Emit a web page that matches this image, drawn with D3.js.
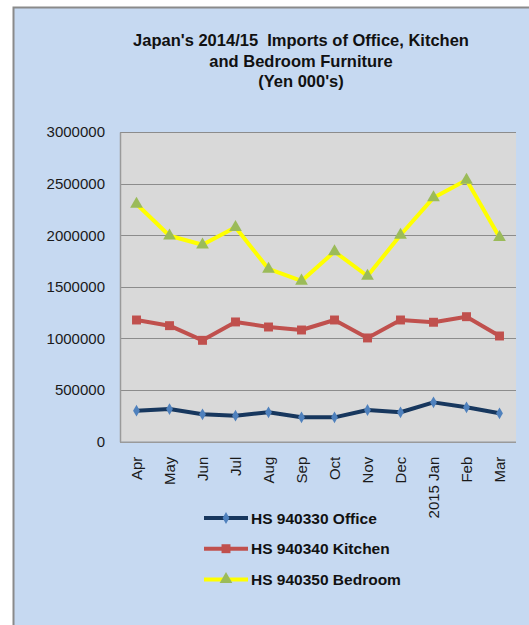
<!DOCTYPE html>
<html>
<head>
<meta charset="utf-8">
<script src="https://cdn.jsdelivr.net/npm/d3@7"></script>
<style>
  body { margin: 0; background: #fff; }
  text { font-family: "Liberation Sans", Arial, sans-serif; }
</style>
</head>
<body>
<div id="chart"></div>
<script>
var months = ['Apr','May','Jun','Jul','Aug','Sep','Oct','Nov','Dec','2015 Jan','Feb','Mar'];
var office  = [300000, 316000, 265000, 252000, 285000, 236000, 236000, 307000, 285000, 381000, 333000, 275000];
var kitchen = [1179000, 1124000, 982000, 1160000, 1111000, 1082000, 1179000, 1005000, 1179000, 1157000, 1211000, 1024000];
var bedroom = [2302000, 1995000, 1908000, 2077000, 1673000, 1557000, 1841000, 1605000, 2002000, 2364000, 2535000, 1980000];
var yTicks = [0, 500000, 1000000, 1500000, 2000000, 2500000, 3000000];
var titleLines = ["Japan's 2014/15  Imports of Office, Kitchen", 'and Bedroom Furniture', "(Yen 000's)"];

var series = [
  {name: 'HS 940330 Office',  values: office,  line: '#17375e', marker: '#4f81bd', shape: d3.symbolDiamond, size: 40},
  {name: 'HS 940340 Kitchen', values: kitchen, line: '#c0504d', marker: '#c0504d', shape: d3.symbolSquare, size: 80},
  {name: 'HS 940350 Bedroom', values: bedroom, line: '#ffff00', marker: '#9bbb59', shape: d3.symbolTriangle, size: 70}
];

var width = 529, height = 625;

var svg = d3.select('#chart')
    .append('svg')
    .attr('width', width)
    .attr('height', height)

// chart background + border (top & left visible)
svg.append('rect')
    .attr('x', 13).attr('y', 7)
    .attr('width', width).attr('height', height)
    .attr('fill', '#c6d9f1')
svg.append('path')
    .attr('d', `M13.5,${height} V7.5 H${width}`)
    .attr('fill', 'none')
    .attr('stroke', '#8a8a8a')
    .attr('stroke-width', 2)

// title
svg.append('g')
    .selectAll('text')
    .data(titleLines)
    .join('text')
    .attr('x', 301)
    .attr('y', (d, i) => 46 + i*20.5)
    .attr('text-anchor', 'middle')
    .style('font-size', '16.5px')
    .style('font-weight', 'bold')
    .style('white-space', 'pre')
    .attr('fill', '#111')
    .text(d => d)

var plot = {left: 120, right: 516, top: 132, bottom: 441.7};

var x = d3.scalePoint()
    .domain(months)
    .range([plot.left, plot.right])
    .padding(0.5)

var y = d3.scaleLinear()
    .domain([0, 3000000])
    .range([plot.bottom, plot.top])

svg.append('rect')
    .attr('x', plot.left).attr('y', plot.top)
    .attr('width', plot.right - plot.left)
    .attr('height', plot.bottom - plot.top)
    .attr('fill', '#d9d9d9')

// grid lines
svg.append('g')
    .selectAll('line')
    .data(yTicks.slice(1))
    .join('line')
    .attr('x1', plot.left).attr('x2', plot.right)
    .attr('y1', d => Math.round(y(d)) + 0.5).attr('y2', d => Math.round(y(d)) + 0.5)
    .attr('stroke', '#8c8c8c')
    .attr('stroke-width', 1.2)

// y axis
var yAxis = svg.append('g')
    .attr('transform', `translate(${plot.left},0)`)
    .call(d3.axisLeft(y).tickValues(yTicks).tickSize(0).tickPadding(15).tickFormat(d3.format('d')))
yAxis.select('.domain').attr('stroke', '#9a9a9a').attr('stroke-width', 1.5)
yAxis.selectAll('text')
    .style('font-size', '15px')
    .style('font-family', '"Liberation Sans", Arial, sans-serif')
    .attr('fill', '#1a1a1a')

// x axis
var xAxis = svg.append('g')
    .attr('transform', `translate(0,${plot.bottom})`)
    .call(d3.axisBottom(x).tickSize(0).tickSizeOuter(0))
xAxis.select('.domain')
    .attr('d', `M${plot.left},0.5H${plot.right}`)
    .attr('stroke', '#9a9a9a').attr('stroke-width', 1.5)
xAxis.selectAll('text')
    .attr('transform', 'rotate(-90)')
    .attr('x', -15)
    .attr('y', 0)
    .attr('dy', '0.35em')
    .attr('text-anchor', 'end')
    .style('font-size', '15px')
    .style('font-family', '"Liberation Sans", Arial, sans-serif')
    .attr('fill', '#1a1a1a')

var line = d3.line()
    .x((d, i) => x(months[i]))
    .y(d => y(d))

series.forEach(function(s) {
  var g = svg.append('g')
  g.append('path')
      .datum(s.values)
      .attr('d', line)
      .attr('fill', 'none')
      .attr('stroke', s.line)
      .attr('stroke-width', 4)
      .attr('stroke-linejoin', 'round')
  g.selectAll('path.m')
      .data(s.values)
      .join('path')
      .attr('class', 'm')
      .attr('d', d3.symbol().type(s.shape).size(s.size))
      .attr('transform', (d, i) => `translate(${x(months[i])},${y(d)})`)
      .attr('fill', s.marker)
})

// legend
var legend = svg.append('g')
    .attr('transform', 'translate(204,518)')
var rows = legend.selectAll('g')
    .data(series)
    .join('g')
    .attr('transform', (d, i) => `translate(0,${i*30.7})`)
rows.append('line')
    .attr('x1', 0).attr('x2', 44)
    .attr('stroke', d => d.line)
    .attr('stroke-width', 4)
rows.append('path')
    .attr('d', d => d3.symbol().type(d.shape).size(d.size)())
    .attr('transform', 'translate(22,0)')
    .attr('fill', d => d.marker)
rows.append('text')
    .attr('x', 47)
    .attr('dy', '0.36em')
    .style('font-size', '15.5px')
    .style('font-weight', 'bold')
    .attr('fill', '#111')
    .text(d => d.name)
</script>
</body>
</html>
